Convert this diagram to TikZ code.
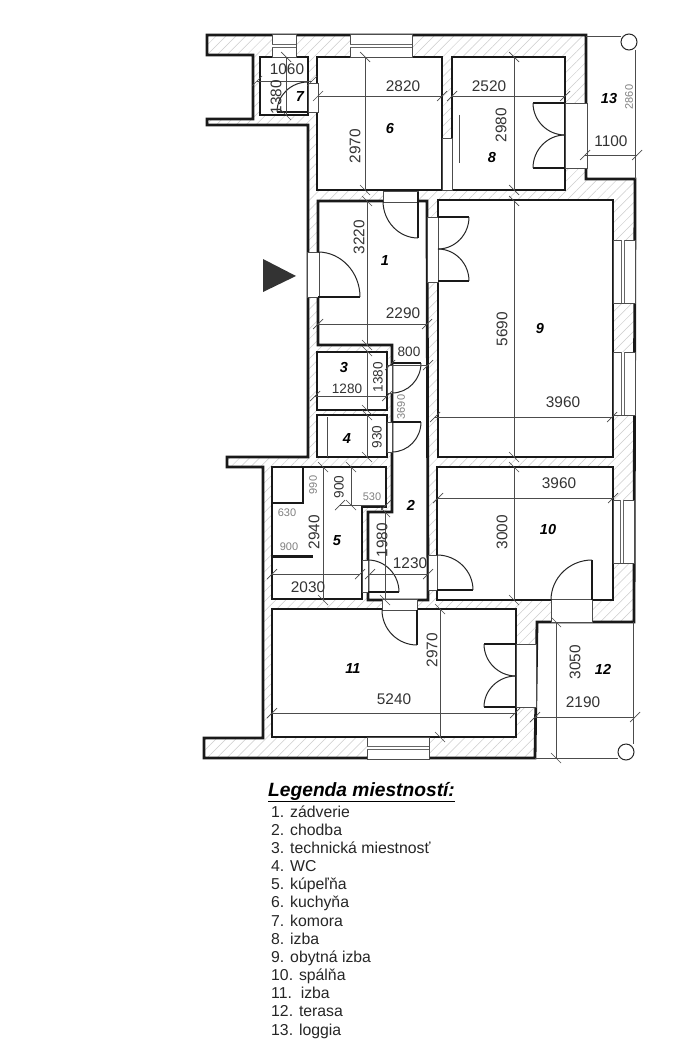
\documentclass[tikz,border=0pt]{standalone}
\usepackage{fontspec}
\setmainfont{Liberation Sans}
\usetikzlibrary{calc}
\usetikzlibrary{patterns.meta}

\tikzset{
  wall/.style={draw=black!90, line width=2.8pt, line join=miter},
  room/.style={wall, fill=white},
  poche/.style={wall, preaction={fill=white}, preaction={pattern={Lines[angle=45,distance=7pt,line width=.5pt]}, pattern color=black!20}},
  opening/.style={draw=black!70, line width=.7pt, fill=white},
  glass/.style={draw=black!60, line width=.8pt},
  dimline/.style={draw=black!70, line width=.7pt},
  swing/.style={draw=black!85, line width=1pt},
  leaf/.style={draw=black!90, line width=2.2pt},
  dimlab/.style={inner sep=0pt, text=black!80, font=\fontsize{15.4}{16}\selectfont},
  dimsmall/.style={inner sep=0pt, text=black!80, font=\fontsize{13.6}{15}\selectfont},
  dimgrey/.style={inner sep=0pt, text=black!50, font=\fontsize{11}{12}\selectfont},
  roomno/.style={inner sep=0pt, text=black, font=\fontsize{14.5}{15}\selectfont\bfseries\itshape},
  legitem/.style={inner sep=0pt, anchor=base west, text=black!85, font=\fontsize{15.8}{16}\selectfont},
}

% hinge x,y / tip x,y / jamb x,y
\newcommand{\doorleaf}[6]{
  \draw[leaf] (#1,#2) -- (#3,#4);
  \draw[swing] (#3,#4) .. controls ($(#3,#4)+0.55*(#5-#1,#6-#2)$) and ($(#5,#6)+0.55*(#3-#1,#4-#2)$) .. (#5,#6);
}

\begin{document}
\begin{tikzpicture}[x=1pt, y=-1pt]
  \useasboundingbox (0,0) rectangle (698,1054);

  % masonry
  \draw[poche] (207,35) -- (586,35) -- (586,179) -- (635,179) -- (634,622) -- (537,622)
    -- (535,758) -- (204,758) -- (204,738) -- (263,738) -- (263,467) -- (227,467) -- (227,457)
    -- (308,457) -- (308,125) -- (207,125) -- (207,119) -- (253,119) -- (253,55) -- (207,55) -- cycle;

  % rooms
  \draw[room] (260,57) rectangle (308,115);
  \draw[room] (317,57) rectangle (442,190);
  \draw[room] (452,57) rectangle (565,190);
  \draw[room] (318,201) -- (427,201) -- (428,600) -- (368,600) -- (368,512) -- (392,512)
    -- (392,345) -- (318,345) -- cycle;
  \draw[room] (317,352) rectangle (387,410);
  \draw[room] (317,415) rectangle (387,457);
  \draw[room] (438,200) rectangle (613,457);
  \draw[room] (437,467) rectangle (613,600);
  \draw[room] (272,467) -- (386,467) -- (386,507) -- (362,507) -- (362,599) -- (272,599) -- cycle;
  \draw[room] (272,609) rectangle (516,737);

  % openings
  \foreach \xa/\ya/\xb/\yb in {272/34/296/57, 350/34/412/57, 367/737/429/759, 613/240/635/303,
    613/352/635/415, 613/500/634/563, 308/83/318/112, 442/138/452/190, 383/191/418/202,
    307/252/319/297, 427/217/438/282, 387/365/392/393, 387/422/392/452, 362/560/368/592,
    428/555/437/590, 382/599/417/610, 551/599/592/622, 516/644/536/707, 565/103/587/168}
    \draw[opening] (\xa,\ya) rectangle (\xb,\yb);

  % panes
  \draw[glass, double, double distance=2pt] (272,46) -- (296,46);
  \draw[glass, double, double distance=2pt] (350,46) -- (412,46);
  \draw[glass, double, double distance=2pt] (367,748) -- (429,748);
  \draw[glass, double, double distance=2pt] (623,240) -- (623,303);
  \draw[glass, double, double distance=2pt] (623,352) -- (623,415);
  \draw[glass, double, double distance=2pt] (622,500) -- (622,563);

  % fittings
  \draw[wall] (272,503) -- (303,503) -- (303,467);
  \draw[wall, line width=3pt] (272,556) -- (313,556);
  \draw[wall] (418,192) -- (418,201) -- (427,201);
  \draw[dimline] (459,115) -- (459,163);
  \draw[dimline] (327,417) -- (327,457);

  % loggia, terrace
  \draw[dimline] (586,36) -- (621,36);
  \draw[dimline] (635,50) -- (635,179);
  \draw[dimline] (633,622) -- (633,744);
  \draw[dimline] (535,758) -- (618,758);
  \node[circle, draw=black!85, line width=1pt, minimum size=16pt, inner sep=0pt] (col1) at (629,42) {};
  \node[circle, draw=black!85, line width=1pt, minimum size=16pt, inner sep=0pt] (col2) at (626,752) {};

  % doors
  \doorleaf{318}{297}{360}{297}{318}{252}
  \doorleaf{418}{201}{418}{238}{383}{201}
  \doorleaf{438}{217}{469}{217}{438}{249}
  \doorleaf{438}{281}{469}{281}{438}{249}
  \doorleaf{392}{363}{421}{363}{392}{393}
  \doorleaf{392}{422}{421}{422}{392}{452}
  \doorleaf{368}{592}{399}{592}{368}{560}
  \doorleaf{437}{590}{473}{590}{437}{555}
  \doorleaf{417}{610}{417}{645}{382}{610}
  \doorleaf{592}{600}{592}{560}{551}{600}
  \doorleaf{516}{644}{484}{644}{516}{676}
  \doorleaf{516}{707}{484}{707}{516}{676}
  \doorleaf{565}{103}{533}{103}{565}{135}
  \doorleaf{565}{168}{533}{168}{565}{135}
  \doorleaf{308}{112}{277}{112}{308}{82}

  % entrance
  \fill[black!80] (263,259) -- (296,276) -- (263,292) -- cycle;

  % dimension lines
  \foreach \xa/\ya/\xb/\yb in {257/81/312/81, 318/96/442/96, 452/96/565/96, 585/155/637/155,
    318/324/427/324, 390/365/428/365, 315/396/387/396, 435/417/612/417, 438/498/613/498,
    340/505/386/505, 272/574/360/574, 370/574/428/574, 272/713/515/713, 535/717/635/717} {
    \draw[dimline] (\xa,\ya) -- (\xb,\yb);
    \draw[dimline] (\xa-5,\ya+5) -- (\xa+5,\ya-5);
    \draw[dimline] (\xb-5,\yb+5) -- (\xb+5,\yb-5);
  }
  \foreach \xa/\ya/\xb/\yb in {365/57/365/190, 514/57/514/190, 367/201/367/345, 367/351/367/410,
    367/415/367/457, 514/201/514/457, 514/467/514/600, 323/467/323/600, 351/467/351/505,
    385/512/385/600, 440/609/440/737, 556/622/556/758, 286/57/286/115} {
    \draw[dimline] (\xa,\ya) -- (\xb,\yb);
    \draw[dimline] (\xa-5,\ya-5) -- (\xa+5,\ya+5);
    \draw[dimline] (\xb-5,\yb-5) -- (\xb+5,\yb+5);
  }

  % dimension labels
  \node[dimlab] (d1060) at (287,69) {1060};
  \node[dimlab] (d2820) at (403,86) {2820};
  \node[dimlab] (d2520) at (489,86) {2520};
  \node[dimlab] (d1100) at (611,141) {1100};
  \node[dimlab] (d2290) at (403,313) {2290};
  \node[dimsmall] (d800) at (409,352) {800};
  \node[dimsmall] (d1280) at (347,389) {1280};
  \node[dimlab] (d3960a) at (563,402) {3960};
  \node[dimlab] (d3960b) at (559,483) {3960};
  \node[dimlab] (d2030) at (308,587) {2030};
  \node[dimlab] (d1230) at (410,563) {1230};
  \node[dimlab] (d5240) at (394,699) {5240};
  \node[dimlab] (d2190) at (583,702) {2190};
  \node[dimlab, rotate=90] (d1380a) at (276,97) {1380};
  \node[dimlab, rotate=90] (d2970a) at (355,146) {2970};
  \node[dimlab, rotate=90] (d2980) at (501,125) {2980};
  \node[dimlab, rotate=90] (d3220) at (359,237) {3220};
  \node[dimlab, rotate=90] (d5690) at (502,329) {5690};
  \node[dimsmall, rotate=90] (d1380b) at (378,377) {1380};
  \node[dimsmall, rotate=90] (d930) at (377,437) {930};
  \node[dimsmall, rotate=90] (d900a) at (339,487) {900};
  \node[dimlab, rotate=90] (d2940) at (314,532) {2940};
  \node[dimlab, rotate=90] (d1980) at (382,540) {1980};
  \node[dimlab, rotate=90] (d3000) at (502,532) {3000};
  \node[dimlab, rotate=90] (d2970b) at (432,650) {2970};
  \node[dimlab, rotate=90] (d3050) at (575,662) {3050};
  \node[dimgrey, rotate=90] (d2860) at (629,97) {2860};
  \node[dimgrey, rotate=90] (d3690) at (401,407) {3690};
  \node[dimgrey, rotate=90] (d990) at (313,485) {990};
  \node[dimgrey] (d530) at (372,497) {530};
  \node[dimgrey] (d630) at (287,513) {630};
  \node[dimgrey] (d900b) at (289,547) {900};

  % room numbers
  \node[roomno] (r1) at (385,261) {1};
  \node[roomno] (r2) at (411,505) {2};
  \node[roomno] (r3) at (344,368) {3};
  \node[roomno] (r4) at (347,439) {4};
  \node[roomno] (r5) at (337,541) {5};
  \node[roomno] (r6) at (390,129) {6};
  \node[roomno] (r7) at (300,97) {7};
  \node[roomno] (r8) at (492,158) {8};
  \node[roomno] (r9) at (540,329) {9};
  \node[roomno] (r10) at (548,530) {10};
  \node[roomno] (r11) at (353,669) {11};
  \node[roomno] (r12) at (603,669) {12};
  \node[roomno] (r13) at (609,99) {13};

  % legend
  \node[inner sep=0pt, anchor=base west, font=\fontsize{19.2}{20}\selectfont\bfseries\itshape] (legtitle) at (268,796) {\underline{Legenda miestností:}};
  \foreach \n/\lab in {1/1. zádverie, 2/2. chodba, 3/3. technická miestnosť, 4/4. WC, 5/5. kúpeľňa,
    6/6. kuchyňa, 7/7. komora, 8/8. izba, 9/9. obytná izba, 10/10. spálňa, 11/11.\ \ izba,
    12/12. terasa, 13/13. loggia}
    \node[legitem] (leg\n) at (271,{817+18.17*(\n-1)}) {\lab};
\end{tikzpicture}
\end{document}
